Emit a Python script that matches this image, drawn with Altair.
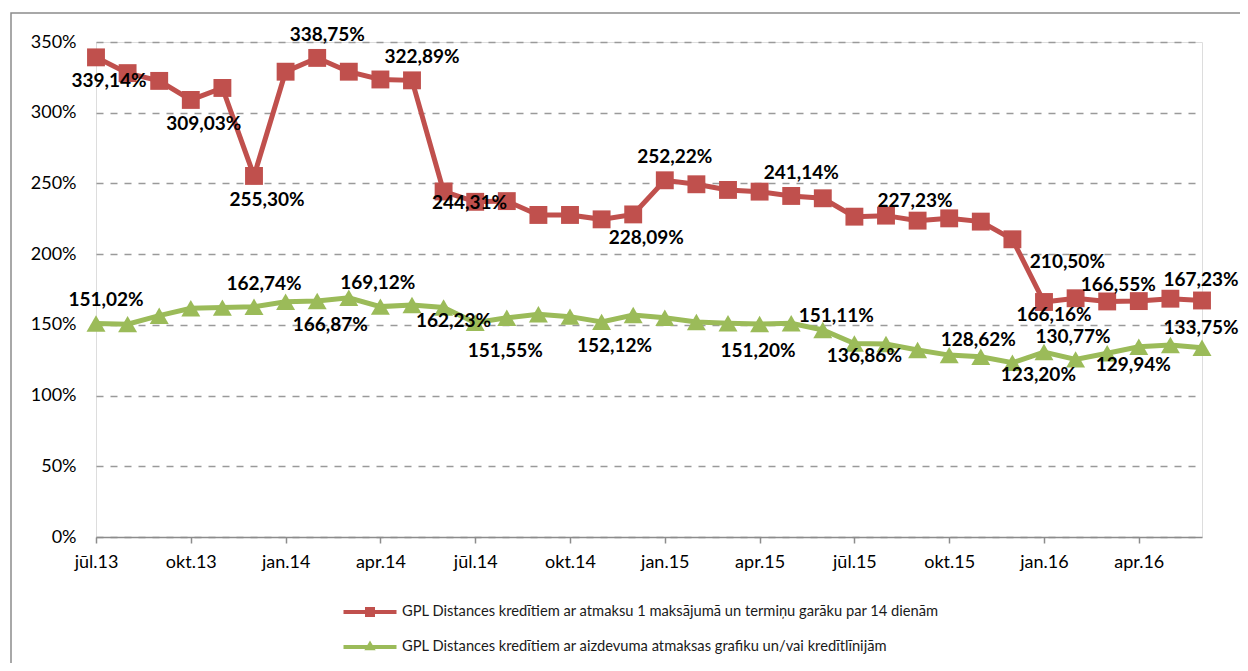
import altair as alt
import pandas as pd

# ---------------- data ----------------
MONTHS = ["jūl.13", "aug.13", "sep.13", "okt.13", "nov.13", "dec.13",
          "jan.14", "feb.14", "mar.14", "apr.14", "mai.14", "jūn.14",
          "jūl.14", "aug.14", "sep.14", "okt.14", "nov.14", "dec.14",
          "jan.15", "feb.15", "mar.15", "apr.15", "mai.15", "jūn.15",
          "jūl.15", "aug.15", "sep.15", "okt.15", "nov.15", "dec.15",
          "jan.16", "feb.16", "mar.16", "apr.16", "mai.16", "jūn.16"]

AXIS_MONTHS = ["jūl.13", "okt.13", "jan.14", "apr.14", "jūl.14", "okt.14",
               "jan.15", "apr.15", "jūl.15", "okt.15", "jan.16", "apr.16"]

Y_TICKS = [0, 50, 100, 150, 200, 250, 300, 350]

S1 = "GPL Distances kredītiem ar atmaksu 1 maksājumā un termiņu garāku par 14 dienām"
S2 = "GPL Distances kredītiem ar aizdevuma atmaksas grafiku un/vai kredītlīnijām"

RED_VALUES = [339.14, 328.0, 322.5, 309.03, 317.5, 255.30,
              329.0, 338.75, 329.0, 323.5, 322.89, 244.31,
              237.0, 237.5, 227.7, 227.7, 224.6, 228.09,
              252.22, 249.4, 245.4, 244.2, 241.14, 239.5,
              226.5, 227.23, 223.7, 225.3, 223.0, 210.50,
              166.16, 168.8, 166.55, 166.8, 168.5, 167.23]

GREEN_VALUES = [151.02, 150.5, 156.5, 161.7, 162.2, 162.74,
                166.4, 166.87, 169.12, 162.9, 164.0, 162.23,
                151.55, 155.0, 157.5, 155.8, 152.12, 157.0,
                155.0, 152.0, 151.20, 150.6, 151.11, 146.4,
                136.86, 136.5, 132.2, 128.62, 127.5, 123.20,
                130.77, 125.6, 129.94, 134.5, 135.8, 133.75]

# labelled points: (month index, placement)
RED_LABELS = [(0, "below"), (3, "below"), (5, "below"), (7, "above"),
              (10, "above"), (11, "right"), (17, "below"), (18, "above"),
              (22, "above"), (25, "above_r"), (29, "below_far"),
              (30, "below_near"), (32, "above_s"), (35, "above_edge")]
GREEN_LABELS = [(0, "above"), (5, "above"), (7, "below"), (8, "above_r"),
                (11, "below_near"), (12, "below_r"), (16, "below"),
                (20, "below_r"), (22, "right_up"), (24, "below_near"),
                (27, "above_r"), (29, "right"), (30, "above_r"),
                (32, "right"), (35, "above_edge")]

# ---------------- style ----------------
RED = "#C0504D"
GREEN = "#9BBB59"
FONT = "Lato"
PLACEMENT = {
    "above": (10, -23),
    "above_s": (11, -16),
    "above_edge": (-1, -20),
    "above_r": (29, -15),
    "below": (13, 24),
    "below_r": (30, 28),
    "below_near": (10, 13),
    "right": (26, 12),
    "right_up": (45, -7),
    "below_far": (55, 23),
}

# legend symbols: a line segment plus the marker
LEG_SQUARE = "M-2.65,0H2.65M-0.5,-0.3H0.5M-0.5,0H0.5M-0.5,0.3H0.5"
LEG_TRIANGLE = "M-2.65,0H2.65M0,-0.26L0.22,0.12L-0.22,0.12Z"


def fmt(v):
    return f"{v:.2f}".replace(".", ",") + "%"


red_df = pd.DataFrame({"month": MONTHS, "value": RED_VALUES, "series": S1})
green_df = pd.DataFrame({"month": MONTHS, "value": GREEN_VALUES, "series": S2})
long_df = pd.concat([red_df, green_df], ignore_index=True)

lab_rows = []
for idx, pl in RED_LABELS:
    lab_rows.append({"month": MONTHS[idx], "value": RED_VALUES[idx],
                     "text": fmt(RED_VALUES[idx]), "placement": pl})
for idx, pl in GREEN_LABELS:
    lab_rows.append({"month": MONTHS[idx], "value": GREEN_VALUES[idx],
                     "text": fmt(GREEN_VALUES[idx]), "placement": pl})
labels_df = pd.DataFrame(lab_rows)

x_enc = alt.X(
    "month:O", sort=MONTHS,
    scale=alt.Scale(type="point", padding=0),
    axis=alt.Axis(values=AXIS_MONTHS, labelAngle=0, title=None,
                  labelFont=FONT, labelFontSize=18, labelColor="#000000",
                  labelPadding=10, domainColor="#8c8c8c", domainWidth=1.5,
                  tickColor="#8c8c8c", tickWidth=1.5, tickSize=6,
                  grid=False, zindex=1),
)
y_enc = alt.Y(
    "value:Q",
    scale=alt.Scale(domain=[0, 350], nice=False, zero=True),
    axis=alt.Axis(values=Y_TICKS, labelExpr="datum.value + '%'", title=None,
                  labelFont=FONT, labelFontSize=18, labelColor="#000000",
                  labelPadding=20, domain=False, ticks=False,
                  grid=True, gridDash=[7, 7], gridColor="#9a9a9a",
                  gridWidth=1.5),
)

frame = alt.Chart(pd.DataFrame({"a": [0]})).mark_rect(
    fill=None, stroke="#8c8c8c", strokeWidth=1.5
).encode(x=alt.value(-85), x2=alt.value(3000), y=alt.value(-29), y2=alt.value(3000))

red_line = alt.Chart(red_df).mark_line(color=RED, strokeWidth=5).encode(x=x_enc, y=y_enc)
green_line = alt.Chart(green_df).mark_line(color=GREEN, strokeWidth=5).encode(x=x_enc, y=y_enc)
red_pts = alt.Chart(red_df).mark_point(shape="square", filled=True, size=320,
                                       color=RED, opacity=1).encode(x=x_enc, y=y_enc)
green_pts = alt.Chart(green_df).mark_point(shape="triangle-up", filled=True, size=360,
                                           color=GREEN, opacity=1).encode(x=x_enc, y=y_enc)

leg = alt.Legend(title=None, orient="none", legendX=262, legendY=558,
                 direction="vertical", symbolSize=400, symbolStrokeWidth=4,
                 labelOffset=20, labelFont=FONT, labelFontSize=14.7,
                 labelColor="#1a1a1a", rowPadding=12, padding=0,
                 labelLimit=1000)
legend_layer = alt.Chart(long_df).transform_filter("false").mark_point(
    filled=False, strokeWidth=4, opacity=1
).encode(
    x=x_enc, y=y_enc,
    color=alt.Color("series:N", scale=alt.Scale(domain=[S1, S2], range=[RED, GREEN]), legend=leg),
    shape=alt.Shape("series:N", scale=alt.Scale(domain=[S1, S2], range=[LEG_SQUARE, LEG_TRIANGLE]), legend=leg),
)

text_layers = []
for name, (dx, dy) in PLACEMENT.items():
    text_layers.append(
        alt.Chart(labels_df).transform_filter(alt.datum.placement == name).mark_text(
            dx=dx, dy=dy, font=FONT, fontSize=19, fontWeight="bold",
            color="#000000", align="center", baseline="middle"
        ).encode(x=x_enc, y=y_enc, text="text:N")
    )

chart = alt.layer(
    frame, red_line, green_line, red_pts, green_pts, legend_layer, *text_layers
).properties(
    width=1106, height=495,
    padding={"left": 88, "top": 34, "right": 38, "bottom": 126},
    autosize=alt.AutoSizeParams(type="none"),
).configure_view(stroke=None).configure(background="white")

chart.save("out.html", embed_options={"renderer": "svg", "actions": False})
